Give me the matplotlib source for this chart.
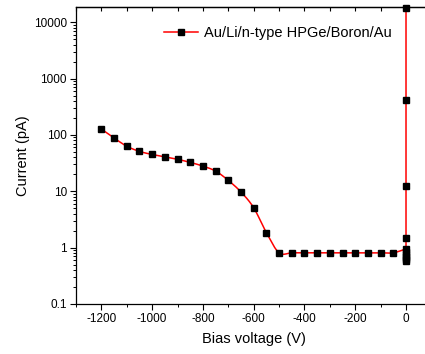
import numpy as np
import matplotlib
matplotlib.use("Agg")
import matplotlib.pyplot as plt
from matplotlib.ticker import MultipleLocator, LogLocator, NullFormatter, FixedLocator, FixedFormatter

plt.rcParams['font.family'] = ['Liberation Sans', 'DejaVu Sans']
plt.rcParams['axes.unicode_minus'] = False

# Data (bias voltage in V, current in pA)
voltage_neg = [-1200, -1150, -1100, -1050, -1000, -950, -900, -850, -800, -750,
               -700, -650, -600, -550, -500, -450, -400, -350, -300, -250,
               -200, -150, -100, -50]
current_neg = [127, 88, 63, 51, 45, 41, 37, 32.5, 28, 22.8,
               15.6, 9.7, 5.1, 1.84, 0.81, 0.81, 0.81, 0.81, 0.81, 0.81,
               0.81, 0.81, 0.81, 0.81]
voltage_zero = [0, 0, 0, 0, 0, 0, 0, 0, 0, 0]
current_zero = [0.95, 0.85, 0.75, 0.68, 0.62, 0.57, 1.5, 12.4, 414, 18000]

legend_label = "Au/Li/n-type HPGe/Boron/Au"
ytick_vals = [0.1, 1, 10, 100, 1000, 10000]
ytick_labels = ["0.1", "1", "10", "100", "1000", "10000"]


def catmull_rom(xs, ys, n=20):
    xs = np.asarray(xs, float)
    ys = np.asarray(ys, float)
    px = np.concatenate([[2 * xs[0] - xs[1]], xs, [2 * xs[-1] - xs[-2]]])
    py = np.concatenate([[2 * ys[0] - ys[1]], ys, [2 * ys[-1] - ys[-2]]])
    outx, outy = [], []
    for i in range(1, len(px) - 2):
        t = np.linspace(0, 1, n, endpoint=False)
        for arr, out in ((px, outx), (py, outy)):
            p0, p1, p2, p3 = arr[i - 1], arr[i], arr[i + 1], arr[i + 2]
            out.extend(0.5 * ((2 * p1) + (-p0 + p2) * t +
                              (2 * p0 - 5 * p1 + 4 * p2 - p3) * t ** 2 +
                              (-p0 + 3 * p1 - 3 * p2 + p3) * t ** 3))
    outx.append(xs[-1])
    outy.append(ys[-1])
    return np.array(outx), np.array(outy)


fig = plt.figure(figsize=(4.25, 3.54), dpi=100)
W, H = 425, 354
left_px, right_px, top_px, bottom_px = 76, 431.4, 7, 304
rect = [left_px / W, 1 - bottom_px / H,
        (right_px - left_px) / W, (bottom_px - top_px) / H]
ax = fig.add_axes(rect)

# smooth curve for the negative-bias part (in log space), then up along 0 V
sx, sy = catmull_rom(voltage_neg + [voltage_zero[0]],
                     list(np.log10(current_neg)) + [np.log10(current_zero[0])])
line_x = np.concatenate([sx, [voltage_zero[-1]]])
line_y = np.concatenate([10 ** sy, [current_zero[-1]]])
ax.plot(line_x, line_y, color='red', lw=1.1, zorder=2, clip_on=False)

all_v = voltage_neg + voltage_zero
all_c = current_neg + current_zero
ax.plot(all_v, all_c, linestyle='none', marker='s', ms=4.8, color='black',
        zorder=3, clip_on=False)

# legend proxy
ax.plot([], [], color='red', lw=1.1, marker='s', ms=4.8, mfc='black',
        mec='black', label=legend_label)
leg = ax.legend(loc='upper left', bbox_to_anchor=(0.215, 0.975), frameon=False,
                fontsize=10.5, handlelength=2.3, handletextpad=0.45, borderpad=0.3)

ax.set_yscale('log')
ax.set_xlim(-1300, 100)
ax.set_ylim(0.1, 18600)

ax.xaxis.set_major_locator(MultipleLocator(200))
ax.xaxis.set_minor_locator(MultipleLocator(100))
ax.yaxis.set_major_locator(FixedLocator(ytick_vals))
ax.yaxis.set_major_formatter(FixedFormatter(ytick_labels))
ax.yaxis.set_minor_locator(LogLocator(base=10, subs=np.arange(2, 10), numticks=20))
ax.yaxis.set_minor_formatter(NullFormatter())

ax.spines['right'].set_visible(False)
for s in ax.spines.values():
    s.set_linewidth(0.9)

ax.tick_params(axis='both', which='major', direction='out', length=4,
               width=0.8, labelsize=8.5, pad=2.5)
ax.tick_params(axis='both', which='minor', direction='out', length=2.2, width=0.7)
ax.tick_params(axis='y', which='both', right=False)
ax.tick_params(axis='x', which='both', top=False)

# top ticks pointing inward (overlay axes sharing the x range)
top = ax.twiny()
top.set_xlim(ax.get_xlim())
top.xaxis.set_major_locator(MultipleLocator(100))
top.xaxis.set_minor_locator(matplotlib.ticker.NullLocator())
top.tick_params(axis='x', which='major', direction='in', length=3.2, width=0.8,
                color='black', top=True, bottom=False, labeltop=False,
                labelbottom=False)
for name in ('left', 'right', 'bottom'):
    top.spines[name].set_visible(False)
top.spines['top'].set_linewidth(0.9)

ax.set_xlabel('Bias voltage (V)', fontsize=10.5, labelpad=5)
ax.set_ylabel('Current (pA)', fontsize=10.5, labelpad=3)

fig.savefig('out.png', dpi=100)
